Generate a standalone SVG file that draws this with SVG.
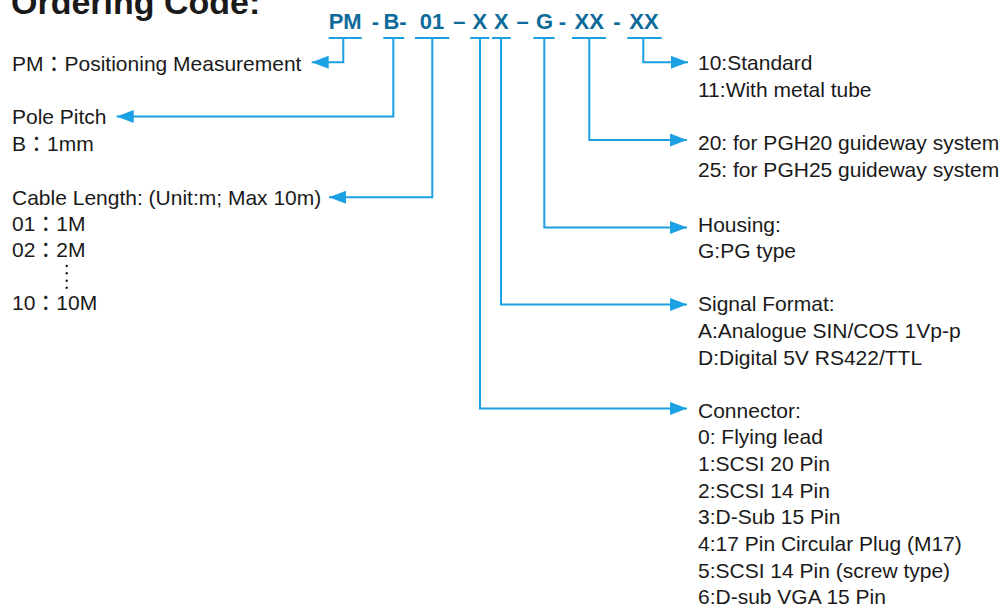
<svg xmlns="http://www.w3.org/2000/svg" width="1002" height="606" viewBox="0 0 1002 606">
<style>
.t{font-family:"Liberation Sans","Noto Sans CJK TC",sans-serif;font-size:21px;fill:#1a1a1a}
.fw{font-family:"Noto Sans CJK TC","Noto Sans CJK JP",sans-serif}
.title{font-family:"Liberation Sans",sans-serif;font-size:34px;font-weight:bold;fill:#1a1a1a}
.code{font-family:"Liberation Sans",sans-serif;font-size:22px;font-weight:bold;fill:#0d6b9a;text-anchor:middle}
.ul{stroke:#1aa0e3;stroke-width:2;fill:none}
.c{stroke:#1aa0e3;stroke-width:2;fill:none;marker-end:url(#ah)}
.dot{fill:#1a1a1a}
</style>
<defs>
<marker id="ah" markerUnits="userSpaceOnUse" markerWidth="18" markerHeight="14" refX="17" refY="6.5" orient="auto">
<path d="M0,0 L17,6.5 L0,13 z" fill="#1aa0e3"/>
</marker>
</defs>
<rect width="1002" height="606" fill="#ffffff"/>
<g id="title"><text class="title" x="11" y="14.3">Ordering Code:</text></g>

<g id="code">
<text class="code" x="345.2" y="29">PM</text>
<text class="code" x="375.5" y="29">-</text>
<text class="code" x="395" y="29">B-</text>
<text class="code" x="432" y="29">01</text>
<text class="code" x="459.3" y="29">–</text>
<text class="code" x="479.8" y="29">X</text>
<text class="code" x="501.3" y="29">X</text>
<text class="code" x="522.5" y="29">–</text>
<text class="code" x="544.5" y="29">G</text>
<text class="code" x="562.3" y="29">-</text>
<text class="code" x="589.2" y="29">XX</text>
<text class="code" x="617" y="29">-</text>
<text class="code" x="644" y="29">XX</text>
<path class="ul" d="M328.7,38H361.7M383.3,38H404.3M415,38H449.3M470.3,38H489.3M492,38H510.7M533.3,38H554.7M572,38H606M627.3,38H661.7"/>
</g>

<g id="connectors">
<path class="c" d="M343.3,38V62.3H311.7"/>
<path class="c" d="M393.3,38V116.5H116.7"/>
<path class="c" d="M432.3,38V197.3H329"/>
<path class="c" d="M480,38V408.5H687"/>
<path class="c" d="M501,38V304.5H687"/>
<path class="c" d="M544.3,38V227.5H687"/>
<path class="c" d="M589.3,38V140H687"/>
<path class="c" d="M643.3,38V62.3H688"/>
</g>

<g id="pm"><text class="t" x="12" y="70.7">PM<tspan class="fw">：</tspan>Positioning Measurement</text></g>
<g id="pole-pitch">
<text class="t" x="12" y="124">Pole Pitch</text>
<text class="t" x="12" y="150.7">B<tspan class="fw">：</tspan>1mm</text>
</g>
<g id="cable-length">
<text class="t" x="12" y="205">Cable Length: (Unit:m; Max 10m)</text>
<text class="t" x="12" y="230.7">01<tspan class="fw">：</tspan>1M</text>
<text class="t" x="12" y="256.7">02<tspan class="fw">：</tspan>2M</text>
<circle class="dot" cx="66.7" cy="266" r="1.2"/>
<circle class="dot" cx="66.7" cy="273.3" r="1.2"/>
<circle class="dot" cx="66.7" cy="280.7" r="1.2"/>
<circle class="dot" cx="66.7" cy="287.8" r="1.2"/>
<text class="t" x="12" y="310">10<tspan class="fw">：</tspan>10M</text>
</g>

<g id="tube">
<text class="t" x="698" y="70">10:Standard</text>
<text class="t" x="698" y="97">11:With metal tube</text>
</g>
<g id="guideway">
<text class="t" x="698" y="150">20: for PGH20 guideway system</text>
<text class="t" x="698" y="177">25: for PGH25 guideway system</text>
</g>
<g id="housing">
<text class="t" x="698" y="231.5">Housing:</text>
<text class="t" x="698" y="258">G:PG type</text>
</g>
<g id="signal">
<text class="t" x="698" y="311">Signal Format:</text>
<text class="t" x="698" y="337.5">A:Analogue SIN/COS 1Vp-p</text>
<text class="t" x="698" y="364.5">D:Digital 5V RS422/TTL</text>
</g>
<g id="connector">
<text class="t" x="698" y="417.5">Connector:</text>
<text class="t" x="698" y="444.3">0: Flying lead</text>
<text class="t" x="698" y="470.7">1:SCSI 20 Pin</text>
<text class="t" x="698" y="497.7">2:SCSI 14 Pin</text>
<text class="t" x="698" y="524.3">3:D-Sub 15 Pin</text>
<text class="t" x="698" y="551">4:17 Pin Circular Plug (M17)</text>
<text class="t" x="698" y="577.7">5:SCSI 14 Pin (screw type)</text>
<text class="t" x="698" y="604">6:D-sub VGA 15 Pin</text>
</g>
</svg>
